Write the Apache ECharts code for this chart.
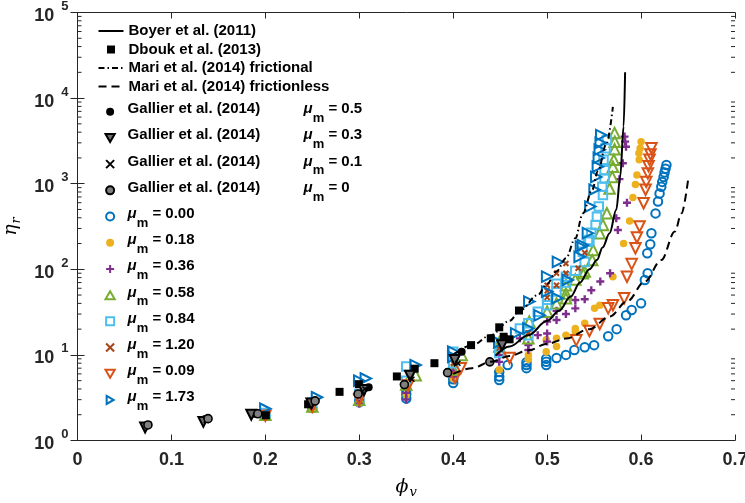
<!DOCTYPE html>
<html><head><meta charset="utf-8">
<script src="https://cdn.jsdelivr.net/npm/echarts@6/dist/echarts.min.js"></script>
<style>html,body{margin:0;padding:0;background:#fff}#c{width:745px;height:503px}</style>
</head><body><div id="c"></div>
<script>
// ---- tick labels ----
const xTickValues = [0, 0.1, 0.2, 0.3, 0.4, 0.5, 0.6, 0.7];
const yTickExponents = [0, 1, 2, 3, 4, 5];
const yMinorMantissas = [2, 3, 4, 5, 6, 7, 8, 9];

// ---- model curves ----
const boyer = [[0.445,9.8],[0.46,12.5],[0.48,17],[0.50,25],[0.513,33],[0.525,48],[0.535,70],[0.545,100],[0.553,128],[0.559,180],[0.5665,264],[0.5736,495],[0.5778,1210],[0.5814,4650],[0.583,20000]];
const mariFrictional = [[0.40,10],[0.42,13],[0.44,17],[0.46,25],[0.471,33],[0.49,50],[0.50,68],[0.51,95],[0.52,135],[0.53,230],[0.538,450],[0.548,850],[0.554,1400],[0.563,2900],[0.570,7900]];
const mariFrictionless = [[0.40,6.0],[0.42,7.0],[0.44,8.3],[0.46,9.7],[0.48,11.3],[0.50,13.5],[0.52,15.5],[0.545,20],[0.5665,28],[0.585,42],[0.604,72],[0.6215,128],[0.636,276],[0.643,450],[0.650,1100]];

// ---- literature points ----
const dbouk = [[0.2005,1.97],[0.2455,2.65],[0.279,3.7],[0.2995,4.55],[0.34,5.6],[0.359,6.9],[0.38,8.0],[0.419,13],[0.44,15.6],[0.449,21],[0.4537,16.3],[0.46,15.2],[0.47,33]];
const gallier05 = [[0.073,1.5],[0.136,1.78],[0.189,2.05],[0.251,2.85],[0.31,4.2],[0.409,10.9],[0.455,15.6]];
const gallier03 = [[0.072,1.42],[0.134,1.65],[0.185,2.0],[0.249,2.7],[0.305,3.9],[0.354,5.7],[0.4016,8.7],[0.452,13]];
const gallier01 = [[0.074,1.5],[0.137,1.72],[0.19,2.0],[0.252,2.8],[0.306,4.0],[0.356,5.2],[0.405,8.0]];
const gallier00 = [[0.075,1.52],[0.139,1.8],[0.192,2.05],[0.253,2.9],[0.2987,3.5],[0.348,4.5],[0.394,6.2],[0.439,8.3]];

// ---- present simulations ----
const mu000 = [[0.2,1.95],[0.25,2.4],[0.3,2.8],[0.3,3.0],[0.35,3.1],[0.35,3.5],[0.35,3.9],[0.40,4.7],[0.40,5.2],[0.449,5.1],[0.449,5.6],[0.449,6.3],[0.458,7.6],[0.478,7.0],[0.478,7.6],[0.478,8.2],[0.499,7.6],[0.499,8.3],[0.499,9.0],[0.51,9.2],[0.52,10],[0.529,11.4],[0.54,12.3],[0.55,13],[0.565,16.5],[0.574,20],[0.584,29],[0.59,33.5],[0.60,40],[0.604,75],[0.607,90],[0.6066,154],[0.6098,196],[0.611,264],[0.6154,450],[0.618,620],[0.6197,770],[0.6215,920],[0.6225,1050],[0.624,1200],[0.625,1350],[0.626,1500],[0.627,1650]];
const mu018 = [[0.2,1.9],[0.25,2.3],[0.3,2.7],[0.35,3.4],[0.35,4.2],[0.40,5.3],[0.449,6.7],[0.48,8.9],[0.48,10],[0.499,10.9],[0.499,15],[0.51,12.5],[0.51,15.6],[0.52,17],[0.53,18.7],[0.53,20.4],[0.54,23.4],[0.5505,35],[0.556,38],[0.57,82],[0.5814,200],[0.5878,367],[0.5913,690],[0.594,980],[0.5956,1260],[0.598,1900],[0.5977,2270],[0.599,2600],[0.60,3100]];
const mu036 = [[0.2,1.9],[0.25,2.4],[0.3,2.7],[0.35,3.0],[0.35,3.6],[0.40,5.6],[0.40,6.5],[0.449,8.3],[0.449,10],[0.471,15.6],[0.48,11.4],[0.48,13],[0.49,17],[0.50,14.3],[0.50,17.8],[0.50,24.5],[0.51,25.6],[0.51,32.7],[0.52,30],[0.53,35],[0.53,43.7],[0.54,44.6],[0.547,57],[0.5566,72],[0.567,90],[0.5736,395],[0.5753,288],[0.577,1130],[0.585,600],[0.5806,1730],[0.584,2700],[0.583,3100],[0.5824,3550]];
const mu058 = [[0.2,2.0],[0.25,2.5],[0.3,3.0],[0.35,4.5],[0.36,5.8],[0.40,6.7],[0.409,10],[0.449,12.5],[0.449,14],[0.48,15.6],[0.481,24.5],[0.50,32],[0.51,40],[0.52,45.8],[0.52,52],[0.52,65],[0.53,76],[0.538,90],[0.54,94],[0.548,128],[0.549,168],[0.556,264],[0.5594,330],[0.5636,452],[0.5665,880],[0.5693,1200],[0.570,1580],[0.571,1900],[0.5718,2520],[0.572,3100],[0.5718,3900]];
const mu084 = [[0.2,2.1],[0.25,2.8],[0.3,3.5],[0.35,5.0],[0.35,7.3],[0.40,8.0],[0.40,10.9],[0.449,10.5],[0.449,12.5],[0.471,20.4],[0.48,17],[0.48,23.4],[0.49,32],[0.50,38],[0.50,44],[0.51,55],[0.51,68],[0.52,70],[0.52,82],[0.53,96],[0.54,122],[0.538,160],[0.5434,210],[0.545,220],[0.547,268],[0.5516,330],[0.553,410],[0.555,540],[0.5594,740],[0.5587,920],[0.5612,1150],[0.5612,1440],[0.560,1900],[0.5622,2600],[0.5636,3240]];
const mu120 = [[0.2,2.0],[0.25,2.6],[0.3,3.2],[0.35,4.4],[0.40,8.0],[0.449,12],[0.48,18],[0.50,47],[0.50,56],[0.50,65],[0.51,65],[0.51,90],[0.52,90],[0.52,117],[0.533,103],[0.54,156]];
const mu009 = [[0.2,1.95],[0.25,2.5],[0.3,3.0],[0.352,4.4],[0.402,5.4],[0.408,7.0],[0.46,9.2],[0.531,14.8],[0.545,19],[0.556,23],[0.565,35],[0.57,38],[0.582,46],[0.585,82],[0.59,115],[0.594,176],[0.5956,235],[0.5984,316],[0.6027,590],[0.6048,850],[0.6055,1050],[0.6072,1320],[0.608,1600],[0.609,1900],[0.61,2200],[0.611,2600]];
const mu173 = [[0.2,2.35],[0.255,3.2],[0.30,5.0],[0.307,5.3],[0.36,7.6],[0.40,9.5],[0.40,10.9],[0.449,14],[0.467,17.8],[0.48,20.4],[0.481,42],[0.492,29],[0.50,55],[0.50,82],[0.511,46],[0.5115,122],[0.522,75],[0.5346,140],[0.536,184],[0.538,192],[0.5434,264],[0.546,540],[0.5505,850],[0.5523,1200],[0.554,1580],[0.555,2000],[0.556,2500],[0.557,3000],[0.5576,3700]];

// ---- build ----
const FONT = '"Liberation Sans", Arial, Helvetica, sans-serif';
const AX = '#262626';
const minorTicks = [];
yTickExponents.slice(0, -1).forEach(e => yMinorMantissas.forEach(m => minorTicks.push([0, m * Math.pow(10, e)])));

const P_UP = 'path://M5,0L10,8.66L0,8.66Z';
const P_DOWN = 'path://M0,0L10,0L5,8.66Z';
const P_RIGHT = 'path://M0,0L8.66,5L0,10Z';
const P_SQ = 'path://M0,0L10,0L10,10L0,10Z';
const P_PLUS = 'path://M5,0L5,10M0,5L10,5';
const P_X = 'path://M0,0L10,10M10,0L0,10';
const CLEAR = 'rgba(255,255,255,0)';

function sc(name, data, symbol, size, color, border, bw) {
  return { name, type: 'scatter', data, symbol, symbolSize: size,
    itemStyle: { color: color, borderColor: border, borderWidth: bw, opacity: 1 },
    emphasis: { disabled: true }, silent: true };
}
function ln(name, data, type) {
  return { name, type: 'line', data, showSymbol: false, symbol: 'none', smooth: 0.35, smoothMonotone: 'x',
    lineStyle: { color: '#000', width: 2, type: type }, itemStyle: { color: '#000' },
    emphasis: { disabled: true }, silent: true, z: 5 };
}

const muSeries = [
  sc('m000', mu000, 'circle', 8.5, CLEAR, '#0072BD', 2),
  sc('m018', mu018, 'circle', 7.5, '#EDB120', '#EDB120', 0),
  sc('m036', mu036, P_PLUS, 8, CLEAR, '#7E2F8E', 2.4),
  sc('m058', mu058, P_UP, 10.5, CLEAR, '#77AC30', 2),
  sc('m084', mu084, P_SQ, 8.5, CLEAR, '#4DBEEE', 2),
  sc('m120', mu120, P_X, 5, CLEAR, '#A84417', 2),
  sc('m009', mu009, P_DOWN, 10.5, CLEAR, '#D95319', 2),
  sc('m173', mu173, P_RIGHT, 10.5, CLEAR, '#0072BD', 2)
];
const litSeries = [
  sc('Dbouk et al. (2013)', dbouk, P_SQ, 8, '#000', '#000', 0),
  sc('g05', gallier05, 'circle', 8, '#000', '#000', 0),
  sc('g03', gallier03, P_DOWN, 10, '#6e6e6e', '#000', 2),
  sc('g01', gallier01, P_X, 5, CLEAR, '#000', 1.6),
  sc('g00', gallier00, 'circle', 8, '#7f7f7f', '#000', 1.6)
];
const lineSeries = [
  ln('Boyer et al. (2011)', boyer, 'solid'),
  ln('Mari et al. (2014) frictional', mariFrictional, [6, 3, 1.5, 3]),
  ln('Mari et al. (2014) frictionless', mariFrictionless, [8, 5])
];
const minorSeries = {
  type: 'custom', silent: true, data: minorTicks, xAxisIndex: 0, yAxisIndex: 0, z: 1,
  renderItem: (params, api) => {
    const v = api.value(1);
    const l = api.coord([0, v]), r = api.coord([0.7, v]);
    const st = { stroke: AX, lineWidth: 1 };
    return { type: 'group', children: [
      { type: 'line', shape: { x1: l[0], y1: l[1], x2: l[0] + 4, y2: l[1] }, style: st },
      { type: 'line', shape: { x1: r[0] - 4, y1: r[1], x2: r[0], y2: r[1] }, style: st }
    ]};
  }
};

const muLabels = { m000: '0.00', m018: '0.18', m036: '0.36', m058: '0.58', m084: '0.84', m120: '1.20', m009: '0.09', m173: '1.73' };
const gLabels = { g05: '0.5', g03: '0.3', g01: '0.1', g00: '0' };
function legendFmt(name) {
  if (gLabels[name] !== undefined) return '{t|Gallier et al. (2014)}{mu|μ}{sub|m}{eq| = ' + gLabels[name] + '}';
  if (muLabels[name] !== undefined) return '{mu|μ}{sub|m}{eq| = ' + muLabels[name] + '}';
  return name;
}
const richLegend = {
  t: { fontFamily: FONT, fontWeight: 'bold', fontSize: 15, color: '#000', width: 176, verticalAlign: 'top', padding: [3, 0, 0, 0] },
  mu: { fontFamily: FONT, fontWeight: 'bold', fontStyle: 'italic', fontSize: 15, color: '#000', verticalAlign: 'top', padding: [3, 0, 0, 0] },
  sub: { fontFamily: FONT, fontWeight: 'bold', fontSize: 13, color: '#000', verticalAlign: 'top', padding: [13.5, 0, 0, 0] },
  eq: { fontFamily: FONT, fontWeight: 'bold', fontSize: 15, color: '#000', verticalAlign: 'top', padding: [3, 0, 0, 0] }
};
const hideSym = { opacity: 0 };

const option = {
  animation: false,
  backgroundColor: '#fff',
  grid: { left: 77.5, right: 10, top: 12.5, bottom: 62.5, containLabel: false, outerBoundsMode: 'none' },
  legend: [
    { data: [{ name: 'Boyer et al. (2011)', itemStyle: hideSym }, 'Dbouk et al. (2013)',
             { name: 'Mari et al. (2014) frictional', itemStyle: hideSym }, { name: 'Mari et al. (2014) frictionless', itemStyle: hideSym }],
      orient: 'vertical', left: 97.5, top: 23.5, padding: 0, itemWidth: 25, itemHeight: 8, itemGap: 3.5, selectedMode: false,
      textStyle: { fontFamily: FONT, fontWeight: 'bold', fontSize: 15, color: '#000', lineHeight: 15 } },
    { data: ['g05', 'g03', 'g01', 'g00', 'm000', 'm018', 'm036', 'm058', 'm084', 'm120', 'm009', 'm173'],
      orient: 'vertical', left: 104.5, top: 101.5, padding: 0, itemWidth: 25, itemHeight: 8, itemGap: 2.7, selectedMode: false,
      formatter: legendFmt, textStyle: { color: '#000', rich: richLegend } }
  ],
  xAxis: [
    { type: 'value', min: 0, max: 0.7, interval: 0.1, position: 'bottom',
      axisLine: { show: true, lineStyle: { color: AX, width: 1 } },
      axisTick: { show: true, inside: true, length: 6, lineStyle: { color: AX } },
      splitLine: { show: false },
      axisLabel: { margin: 11, color: AX, fontFamily: FONT, fontWeight: 'bold', fontSize: 18,
        formatter: v => { const i = xTickValues.findIndex(t => Math.abs(t - v) < 1e-6); return i < 0 ? '' : (xTickValues[i] === 0 ? '0' : String(xTickValues[i])); } },
      name: '{p|ϕ}{s|v}', nameLocation: 'middle', nameGap: 37,
      nameTextStyle: { rich: {
        p: { fontFamily: '"DejaVu Serif", serif', fontStyle: 'italic', fontSize: 19, color: '#000', verticalAlign: 'top' },
        s: { fontFamily: '"DejaVu Serif", serif', fontStyle: 'italic', fontSize: 13, color: '#000', verticalAlign: 'top', padding: [9, 0, 0, 1] } } } },
    { type: 'value', min: 0, max: 0.7, interval: 0.1, position: 'top',
      axisLine: { show: true, lineStyle: { color: AX, width: 1 } },
      axisTick: { show: true, inside: true, length: 6, lineStyle: { color: AX } },
      splitLine: { show: false }, axisLabel: { show: false } }
  ],
  yAxis: [
    { type: 'log', logBase: 10, min: 1, max: 100000, position: 'left',
      axisLine: { show: true, lineStyle: { color: AX, width: 1 } },
      axisTick: { show: true, inside: true, length: 7, lineStyle: { color: AX } },
      splitLine: { show: false }, minorTick: { show: false },
      axisLabel: { margin: 9, color: AX,
        formatter: v => { const e = Math.round(Math.log10(v)); return yTickExponents.includes(e) ? '{b|10}{s|' + e + '}' : ''; },
        rich: {
          b: { fontFamily: FONT, fontWeight: 'bold', fontSize: 18, color: AX, verticalAlign: 'top', padding: [7, 0, 0, 0] },
          s: { fontFamily: FONT, fontWeight: 'bold', fontSize: 13, color: AX, verticalAlign: 'top', padding: [0, 0, 0, 7] } } },
      name: '{p|η}{s|r}', nameLocation: 'middle', nameGap: 52, nameRotate: 90,
      nameTextStyle: { rich: {
        p: { fontFamily: '"DejaVu Serif", serif', fontStyle: 'italic', fontSize: 19, color: '#000', verticalAlign: 'top' },
        s: { fontFamily: '"DejaVu Serif", serif', fontStyle: 'italic', fontSize: 13, color: '#000', verticalAlign: 'top', padding: [9, 0, 0, 1] } } } },
    { type: 'log', logBase: 10, min: 1, max: 100000, position: 'right',
      axisLine: { show: true, lineStyle: { color: AX, width: 1 } },
      axisTick: { show: true, inside: true, length: 7, lineStyle: { color: AX } },
      splitLine: { show: false }, axisLabel: { show: false } }
  ],
  series: [minorSeries].concat(muSeries, litSeries, lineSeries)
};

const chart = echarts.init(document.getElementById('c'), null, { renderer: 'canvas' });
chart.setOption(option);
</script>
</body></html>
